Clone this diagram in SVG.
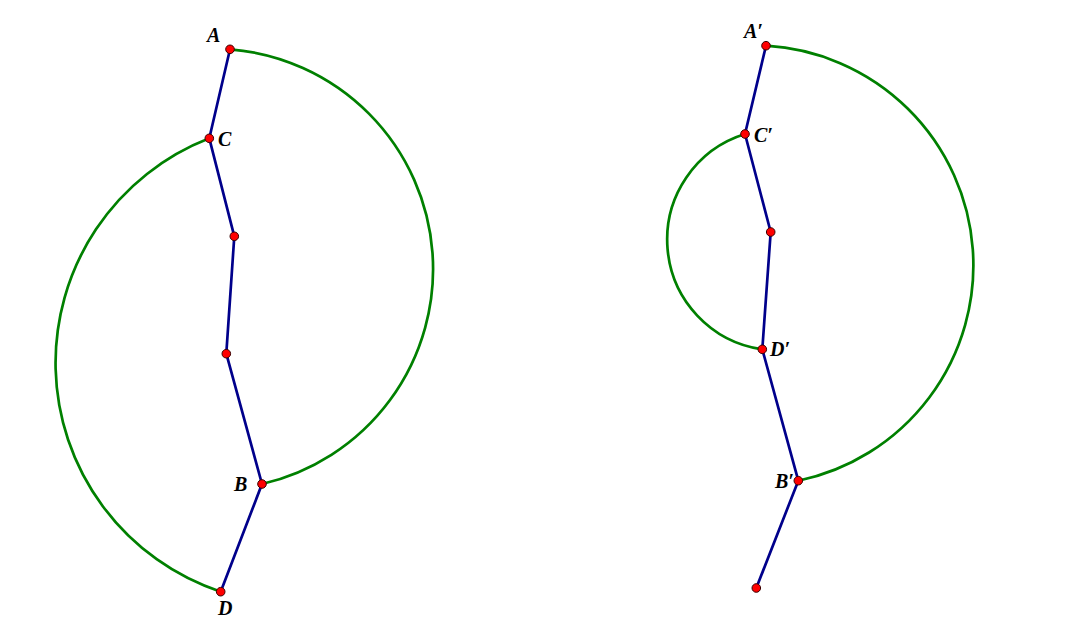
<svg xmlns="http://www.w3.org/2000/svg" width="1079" height="632" viewBox="0 0 1079 632">
<style>
.arc{fill:none;stroke:#008000;stroke-width:2.7}
.seg{fill:none;stroke:#00008B;stroke-width:2.7;stroke-linejoin:round}
.pt{fill:#FF0000;stroke:#3a0000;stroke-width:1}
.lbl{font-family:"Liberation Serif","Times New Roman",serif;font-weight:bold;font-style:italic;font-size:20px;fill:#000}
</style>
<rect width="1079" height="632" fill="#fff"/>
<g id="connectors">
<path class="arc" d="M230,49.3 A220.5,220.5 0 0 1 262,484"/>
<path class="arc" d="M209.3,138.3 A241,241 0 0 0 220.7,591.7"/>
<path class="arc" d="M766,45.7 A220,220 0 0 1 798.3,480.7"/>
<path class="arc" d="M745,134 A110.7,110.7 0 0 0 762.3,349.3"/>
<polyline class="seg" points="230,49.3 209.3,138.3 234.3,236.3 226.3,353.7 262,484 220.7,591.7"/>
<polyline class="seg" points="766,45.7 745,134 770.7,232 762.3,349.3 798.3,480.7 756.3,588"/>
</g>
<g id="A"><circle class="pt" cx="230" cy="49.3" r="4.3"/><text class="lbl" x="207" y="42">A</text></g>
<g id="C"><circle class="pt" cx="209.3" cy="138.3" r="4.3"/><text class="lbl" x="218" y="146">C</text></g>
<g id="M1"><circle class="pt" cx="234.3" cy="236.3" r="4.3"/></g>
<g id="M2"><circle class="pt" cx="226.3" cy="353.7" r="4.3"/></g>
<g id="B"><circle class="pt" cx="262" cy="484" r="4.3"/><text class="lbl" x="234" y="491">B</text></g>
<g id="D"><circle class="pt" cx="220.7" cy="591.7" r="4.3"/><text class="lbl" x="218" y="615">D</text></g>
<g id="A2"><circle class="pt" cx="766" cy="45.7" r="4.3"/><text class="lbl" x="744" y="38">A′</text></g>
<g id="C2"><circle class="pt" cx="745" cy="134" r="4.3"/><text class="lbl" x="754" y="142">C′</text></g>
<g id="M3"><circle class="pt" cx="770.7" cy="232" r="4.3"/></g>
<g id="D2"><circle class="pt" cx="762.3" cy="349.3" r="4.3"/><text class="lbl" x="770" y="356">D′</text></g>
<g id="B2"><text class="lbl" x="775" y="488">B′</text><circle class="pt" cx="798.3" cy="480.7" r="4.3"/></g>
<g id="E2"><circle class="pt" cx="756.3" cy="588" r="4.3"/></g>
</svg>
